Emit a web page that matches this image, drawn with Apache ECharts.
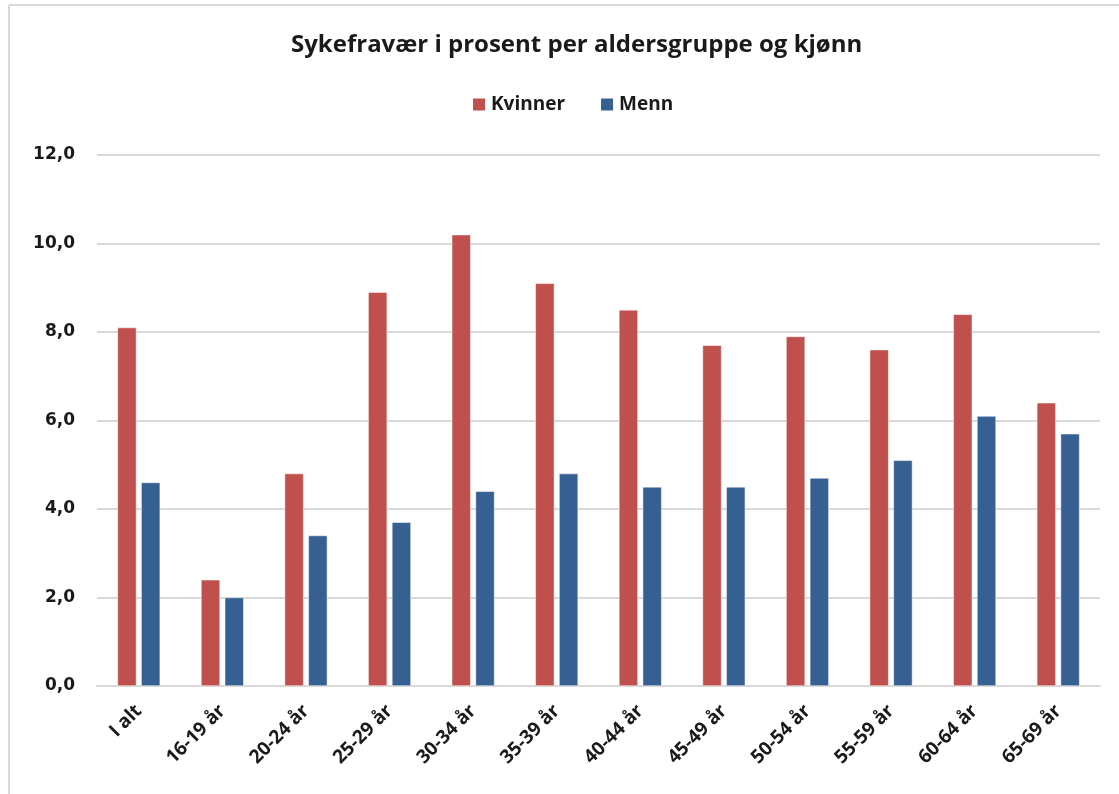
<!DOCTYPE html>
<html>
<head>
<meta charset="utf-8">
<script src="https://cdn.jsdelivr.net/npm/echarts@6/dist/echarts.min.js"></script>
<style>
  html, body { margin: 0; padding: 0; background: #fff; }
  #chart { width: 1119px; height: 794px; }
</style>
</head>
<body>
<div id="chart"></div>
<script>
const categories = ['I alt', '16-19 år', '20-24 år', '25-29 år', '30-34 år', '35-39 år',
  '40-44 år', '45-49 år', '50-54 år', '55-59 år', '60-64 år', '65-69 år']
const kvinner = [8.1, 2.4, 4.8, 8.9, 10.2, 9.1, 8.5, 7.7, 7.9, 7.6, 8.4, 6.4]
const menn = [4.6, 2.0, 3.4, 3.7, 4.4, 4.8, 4.5, 4.5, 4.7, 5.1, 6.1, 5.7]
const seriesNames = ['Kvinner', 'Menn']
const colorList = ['#C0504D', '#376092']

const chart = echarts.init(document.getElementById('chart'))
const option = {
  animation: false,
  color: colorList,
  title: {
    text: 'Sykefravær i prosent per aldersgruppe og kjønn',
    left: 286,
    top: 28,
    textStyle: { fontFamily: 'Open Sans', fontWeight: 'bold', fontSize: 24, color: '#1a1a1a' }
  },
  legend: {
    top: 90,
    left: 466,
    itemWidth: 14,
    itemHeight: 14,
    itemGap: 34,
    icon: 'rect',
    textStyle: { fontFamily: 'Open Sans', fontWeight: 'bold', fontSize: 19, color: '#1a1a1a' },
    data: seriesNames
  },
  graphic: [
    { type: 'line', shape: { x1: 9, y1: 5, x2: 1119, y2: 5 }, style: { stroke: '#D9D9D9', lineWidth: 2 } },
    { type: 'line', shape: { x1: 9, y1: 5, x2: 9, y2: 794 }, style: { stroke: '#D9D9D9', lineWidth: 2 } }
  ],
  grid: { left: 97, right: 19, top: 155, bottom: 108 },
  xAxis: {
    type: 'category',
    data: categories,
    axisLine: { lineStyle: { color: '#D9D9D9', width: 2 } },
    axisTick: { show: false },
    axisLabel: {
      rotate: 45,
      margin: 22,
      interval: 0,
      fontFamily: 'Open Sans',
      fontWeight: 'bold',
      fontSize: 19,
      color: '#1a1a1a'
    }
  },
  yAxis: {
    type: 'value',
    min: 0,
    max: 12,
    interval: 2,
    axisLine: { show: false },
    axisTick: { show: false },
    splitLine: { lineStyle: { color: '#D9D9D9', width: 2 } },
    axisLabel: {
      margin: 22,
      fontFamily: 'DejaVu Sans',
      fontWeight: 'bold',
      fontSize: 17,
      color: '#1a1a1a',
      formatter: v => v.toFixed(1).replace('.', ',')
    }
  },
  series: [
    {
      name: seriesNames[0],
      type: 'bar',
      data: kvinner,
      barWidth: 19,
      barGap: '25%',
      itemStyle: { borderColor: '#fff', borderWidth: 0.5 }
    },
    {
      name: seriesNames[1],
      type: 'bar',
      data: menn,
      barWidth: 19,
      barGap: '25%',
      itemStyle: { borderColor: '#fff', borderWidth: 0.5 }
    }
  ]
}
chart.setOption(option)
</script>
</body>
</html>
